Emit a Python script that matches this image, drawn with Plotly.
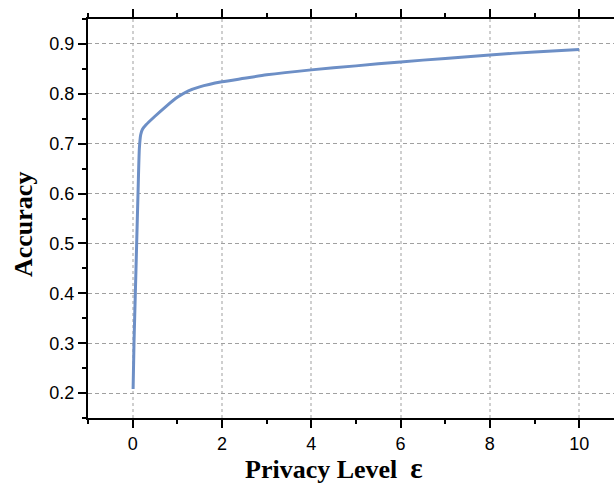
import plotly.graph_objects as go

eps = [0.01, 0.03, 0.06, 0.09, 0.12, 0.15, 0.18, 0.22, 0.3, 0.5, 0.75, 1.0, 1.25, 1.5, 2.0, 2.5, 3.0, 4.0, 5.0, 6.0, 7.0, 8.0, 9.0, 10.0]
accuracy = [0.208, 0.30, 0.40, 0.50, 0.60, 0.69, 0.718, 0.729, 0.738, 0.755, 0.775, 0.793, 0.806, 0.814, 0.824, 0.831, 0.838, 0.848, 0.856, 0.864, 0.871, 0.878, 0.884, 0.889]

x_ticks = [0, 2, 4, 6, 8, 10]
y_ticks = [0.2, 0.3, 0.4, 0.5, 0.6, 0.7, 0.8, 0.9]

W, H = 614, 484
L, R, T, B = 88, 0, 19, 66
pw, ph = W - L - R, H - T - B

fig = go.Figure()
fig.add_trace(go.Scatter(x=eps, y=accuracy, mode="lines",
                         line=dict(color="#6d8fc6", width=3, shape="spline", smoothing=0.6),
                         showlegend=False))

title_font = dict(family="Liberation Serif, Times New Roman, serif", size=26, color="black")

fig.update_layout(
    width=W, height=H,
    margin=dict(l=L, r=R, t=T, b=B),
    paper_bgcolor="white", plot_bgcolor="white",
    font=dict(family="Liberation Sans, Arial, sans-serif", color="black"),
    annotations=[
        dict(text="<b>Privacy Level  <span style='font-size:29px'>ε</span></b>", xref="paper", yref="paper",
             x=(334 - L) / pw, y=(H - B - 468) / ph, xanchor="center", yanchor="middle",
             showarrow=False, font=title_font),
        dict(text="<b>Accuracy</b>", xref="paper", yref="paper", textangle=-90,
             x=(23 - L) / pw, y=(H - B - 225) / ph, xanchor="center", yanchor="middle",
             showarrow=False, font=title_font),
    ],
)
fig.update_xaxes(
    range=[-1, 10.78], tickvals=x_ticks, ticktext=[str(v) for v in x_ticks],
    showline=True, linecolor="black", linewidth=2, mirror="ticks",
    ticks="outside", ticklen=8, tickwidth=2, tickcolor="black",
    minor=dict(tickvals=[-1, 1, 3, 5, 7, 9], ticks="outside", ticklen=4, tickwidth=2, tickcolor="black", showgrid=False),
    showgrid=True, gridcolor="#cfcfcf", gridwidth=1.5, griddash="3px,3px",
    zeroline=False, automargin=False,
    tickfont=dict(size=18),
)
fig.update_yaxes(
    range=[0.15, 0.95], tickvals=y_ticks, ticktext=["%.1f" % v for v in y_ticks],
    showline=True, linecolor="black", linewidth=2, mirror=False,
    ticks="outside", ticklen=8, tickwidth=2, tickcolor="black",
    minor=dict(tickvals=[0.15, 0.25, 0.35, 0.45, 0.55, 0.65, 0.75, 0.85, 0.95], ticks="outside", ticklen=4, tickwidth=2, tickcolor="black", showgrid=False),
    showgrid=True, gridcolor="#a0a0a0", gridwidth=1, griddash="4px,3px",
    zeroline=False, automargin=False,
    tickfont=dict(size=18),
)

fig.write_html("out.html", config={"displayModeBar": False},
               post_script="document.body.style.margin='0';document.body.style.overflow='hidden';")
